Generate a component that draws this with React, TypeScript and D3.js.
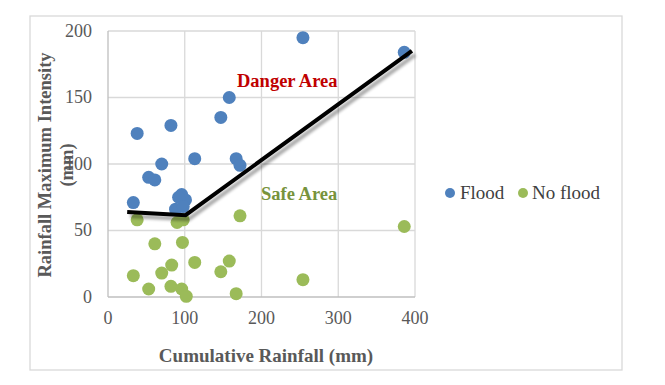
import React from 'react';
import * as d3 from 'd3';

// flood events: [cumulative rainfall, max intensity]
const floodX = [38, 82, 158, 147, 70, 113, 167, 172, 53, 61, 33, 96, 101, 88, 92, 98, 254, 386];
const floodY = [123, 129, 150, 135, 100, 104, 104, 99, 90, 88, 71, 77, 73, 66, 75, 68, 195, 184];

const noFloodX = [38, 90, 98, 61, 97, 33, 53, 70, 83, 113, 82, 96, 102, 158, 147, 167, 172, 254, 386];
const noFloodY = [58, 56, 58, 40, 41, 16, 6, 18, 24, 26, 8, 6, 0.5, 27, 19, 2.5, 61, 13, 53];

// threshold line
const lineX = [25, 101, 396];
const lineY = [64, 61.5, 185];

const xTicks = [0, 100, 200, 300, 400];
const yTicks = [0, 50, 100, 150, 200];

const BLUE = '#4f81bd';
const GREEN = '#9bbb59';
const FONT = "'Liberation Serif', 'DejaVu Serif', serif";

const W = 665;
const H = 385;
const PLOT_LEFT = 108;
const PLOT_RIGHT = 415;
const PLOT_TOP = 31;
const PLOT_BOTTOM = 297;

export default function App() {
  const x = d3.scaleLinear().domain([0, 400]).range([PLOT_LEFT, PLOT_RIGHT]);
  const y = d3.scaleLinear().domain([0, 200]).range([PLOT_BOTTOM, PLOT_TOP]);

  const line = d3
    .line<number>()
    .x((d, i) => x(lineX[i]))
    .y(d => y(d));

  const txt = { fontFamily: FONT };

  return (
    <svg
      width={W}
      height={H}
      style={{ position: 'absolute', left: 0, top: 0, background: '#fff', fontFamily: FONT }}
    >
      <defs>
        <filter id="shadow" x="-10%" y="-10%" width="130%" height="130%">
          <feGaussianBlur in="SourceAlpha" stdDeviation="1.5" />
          <feOffset dx="3" dy="4" result="off" />
          <feComponentTransfer>
            <feFuncA type="linear" slope="0.35" />
          </feComponentTransfer>
          <feMerge>
            <feMergeNode />
            <feMergeNode in="SourceGraphic" />
          </feMerge>
        </filter>
      </defs>

      <rect x={30} y={16} width={592} height={354} fill="#fff" stroke="#d9d9d9" strokeWidth={1.3} />

      {/* grid */}
      {xTicks.slice(1).map(t => (
        <line key={'gx' + t} x1={x(t)} x2={x(t)} y1={PLOT_TOP} y2={PLOT_BOTTOM} stroke="#d9d9d9" strokeWidth={1.3} />
      ))}
      {yTicks.slice(1).map(t => (
        <line key={'gy' + t} x1={PLOT_LEFT} x2={PLOT_RIGHT} y1={y(t)} y2={y(t)} stroke="#d9d9d9" strokeWidth={1.3} />
      ))}
      <line x1={PLOT_LEFT} x2={PLOT_LEFT} y1={PLOT_TOP} y2={PLOT_BOTTOM} stroke="#bfbfbf" strokeWidth={1.3} />
      <line x1={PLOT_LEFT} x2={PLOT_RIGHT} y1={PLOT_BOTTOM} y2={PLOT_BOTTOM} stroke="#bfbfbf" strokeWidth={1.3} />

      {/* tick labels */}
      {xTicks.map(t => (
        <text key={'tx' + t} style={txt} x={x(t)} y={324} textAnchor="middle" fontSize={18} fill="#595959">
          {t}
        </text>
      ))}
      {yTicks.map(t => (
        <text key={'ty' + t} style={txt} x={92} y={y(t) + 5.5} textAnchor="end" fontSize={18} fill="#595959">
          {t}
        </text>
      ))}

      {/* points */}
      {floodX.map((v, i) => (
        <circle key={'f' + i} cx={x(v)} cy={y(floodY[i])} r={6.5} fill={BLUE} />
      ))}
      {noFloodX.map((v, i) => (
        <circle key={'n' + i} cx={x(v)} cy={y(noFloodY[i])} r={6.5} fill={GREEN} />
      ))}

      {/* threshold line */}
      <path d={line(lineY) || ''} fill="none" stroke="#000" strokeWidth={4} filter="url(#shadow)" />

      <text style={txt} x={237} y={87} fontSize={18.5} fontWeight="bold" fill="#c00000">
        Danger Area
      </text>
      <text style={txt} x={261} y={200} fontSize={18.5} fontWeight="bold" fill="#77933c">
        Safe Area
      </text>

      {/* axis titles */}
      <text style={txt} x={266} y={362} textAnchor="middle" fontSize={19} fontWeight="bold" fill="#595959">
        Cumulative Rainfall (mm)
      </text>
      <g transform="translate(45,165) rotate(-90)">
        <text style={txt} x={0} y={6} textAnchor="middle" fontSize={18.5} fontWeight="bold" fill="#595959">
          Rainfall Maximum Intensity
        </text>
        <text style={txt} x={0} y={28} textAnchor="middle" fontSize={18.5} fontWeight="bold" fill="#595959">
          (mm)
        </text>
      </g>

      {/* legend */}
      <circle cx={450} cy={193} r={5} fill={BLUE} />
      <text style={txt} x={460} y={199} fontSize={19} fill="#404040">
        Flood
      </text>
      <circle cx={523} cy={193} r={5} fill={GREEN} />
      <text style={txt} x={532} y={199} fontSize={19} fill="#404040">
        No flood
      </text>
    </svg>
  );
}
